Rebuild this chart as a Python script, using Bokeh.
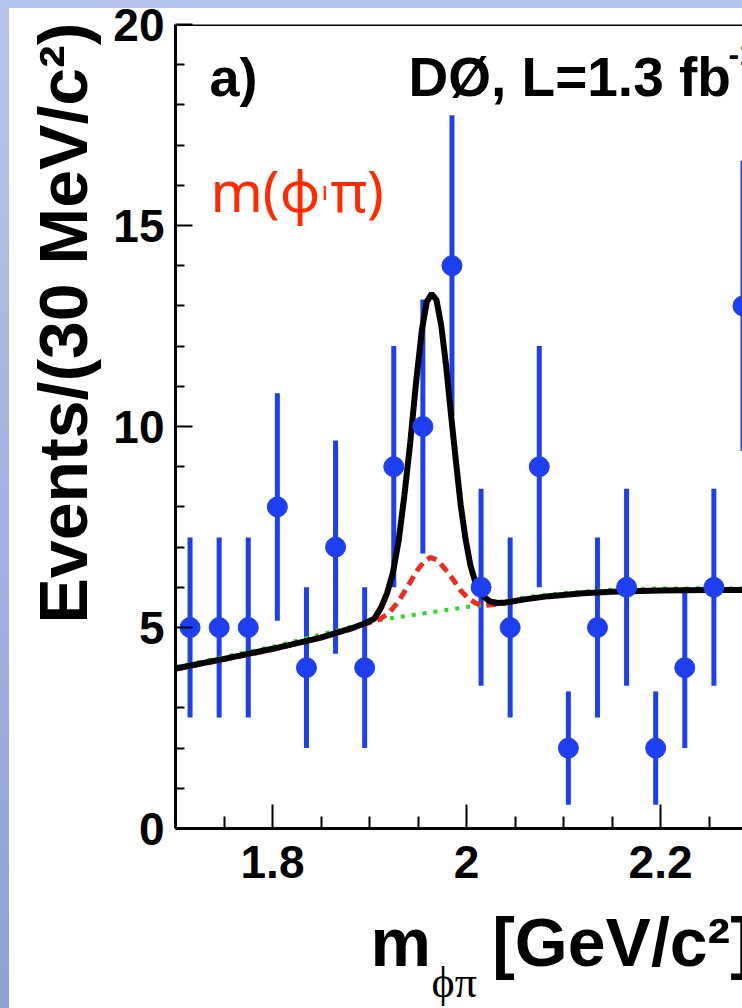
import math
from bokeh.plotting import figure
from bokeh.models import (FixedTicker, CustomJSTickFormatter, Label, Span, Range1d, Title,
                          ColumnDataSource, GlobalInlineStyleSheet)
from bokeh.embed import file_html
from bokeh.resources import INLINE

# ---- data ----
bin_centers = [1.715, 1.745, 1.775, 1.805, 1.835, 1.865, 1.895, 1.925, 1.955, 1.985,
               2.015, 2.045, 2.075, 2.105, 2.135, 2.165, 2.195, 2.225, 2.255, 2.285]
counts = [5, 5, 5, 8, 4, 7, 4, 9, 10, 14, 6, 5, 9, 2, 5, 6, 2, 4, 6, 13]
errors = [2.24, 2.24, 2.24, 2.83, 2.0, 2.65, 2.0, 3.0, 3.16, 3.74,
          2.45, 2.24, 3.0, 1.41, 2.24, 2.45, 1.41, 2.0, 2.45, 3.61]

fit_x = [1.700, 1.750, 1.800, 1.850, 1.880, 1.895, 1.905, 1.912, 1.918, 1.924, 1.930,
         1.936, 1.942, 1.948, 1.954, 1.959, 1.964, 1.969, 1.974, 1.979, 1.984, 1.989,
         1.994, 1.999, 2.004, 2.010, 2.016, 2.024, 2.032, 2.040, 2.060, 2.085, 2.120,
         2.150, 2.200, 2.250, 2.290]
fit_y = [3.98, 4.22, 4.47, 4.75, 4.97, 5.10, 5.22, 5.50, 5.85, 6.35, 7.15,
         8.30, 9.60, 11.10, 12.40, 13.10, 13.30, 13.15, 12.50, 11.50, 10.30, 9.15,
         8.05, 7.20, 6.55, 6.05, 5.80, 5.65, 5.61, 5.62, 5.70, 5.78, 5.85,
         5.89, 5.92, 5.93, 5.93]

sig_x = [1.700, 1.800, 1.880, 1.900, 1.910, 1.920, 1.930, 1.940, 1.950, 1.957, 1.963,
         1.970, 1.978, 1.986, 1.994, 2.002, 2.010, 2.020, 2.030, 2.040]
sig_y = [3.96, 4.45, 4.95, 5.12, 5.20, 5.36, 5.65, 6.05, 6.45, 6.66, 6.74,
         6.68, 6.45, 6.20, 5.92, 5.72, 5.60, 5.55, 5.57, 5.60]

bkg_x = [1.700, 1.800, 1.880, 1.905, 1.950, 2.000, 2.030, 2.060, 2.100, 2.150, 2.200, 2.290]
bkg_y = [4.02, 4.52, 5.01, 5.17, 5.33, 5.51, 5.60, 5.75, 5.86, 5.94, 5.97, 5.98]

x_major = [1.8, 2.0, 2.2]
x_minor = [1.75, 1.85, 1.9, 1.95, 2.05, 2.1, 2.15, 2.25]
y_major = [0, 5, 10, 15, 20]
y_minor = [1, 2, 3, 4, 6, 7, 8, 9, 11, 12, 13, 14, 16, 17, 18, 19]

BLUE = "#1d3ff0"
RED = "#ff2a00"
SANS = "Liberation Sans"

css = """
html { background:
  linear-gradient(to bottom, #b7c6ea, #8ea3d3) 0 0 / 9px 100% no-repeat,
  linear-gradient(#b3c3ea, #b3c3ea) 0 0 / 100% 8px no-repeat, #ffffff !important;
  height: 100%; overflow: hidden !important; }
body { background: transparent !important; overflow: hidden !important;
  margin: 0 !important; padding: 0 !important; }
"""

p = figure(width=742, height=1008, output_backend="svg", toolbar_location=None,
           x_range=Range1d(1.7, 2.2845), y_range=Range1d(0, 20),
           min_border_left=175, min_border_right=0, min_border_top=24, min_border_bottom=180)
p.stylesheets = [GlobalInlineStyleSheet(css=css)]
p.outline_line_color = None
p.xgrid.visible = False
p.ygrid.visible = False
p.background_fill_color = "white"
p.border_fill_color = None

# axes
xa = p.xaxis[0]
xa.ticker = FixedTicker(ticks=x_major, minor_ticks=x_minor)
xa.formatter = CustomJSTickFormatter(code="return Math.abs(tick-2)<1e-9 ? '2' : tick.toFixed(1);")
ya = p.yaxis[0]
ya.ticker = FixedTicker(ticks=y_major, minor_ticks=y_minor)
for ax in (xa, ya):
    ax.axis_line_width = 3
    ax.axis_line_color = "black"
    ax.major_tick_line_width = 2
    ax.minor_tick_line_width = 2
    ax.major_tick_out = 0
    ax.minor_tick_out = 0
    ax.major_label_text_font = SANS
    ax.major_label_text_font_style = "bold"
    ax.major_label_text_font_size = "46px"
    ax.major_label_text_color = "black"
xa.major_tick_in = 24
xa.minor_tick_in = 12
xa.major_label_standoff = 17
ya.major_tick_in = 17
ya.minor_tick_in = 9
ya.major_label_standoff = 11

p.add_layout(Span(location=20, dimension="width", line_color="black", line_width=3))

# axis titles as side-panel titles
p.add_layout(Title(text="Events/(30 MeV/c²)", align="left", vertical_align="bottom",
                   offset=205, standoff=19, text_font=SANS, text_font_style="bold",
                   text_font_size="68px", text_color="black"), "left")
p.add_layout(Title(text="m\u2002\u2009\u2009[GeV/c²]", align="left", vertical_align="bottom",
                   offset=195, standoff=43, text_font=SANS, text_font_style="bold",
                   text_font_size="68px", text_color="black"), "below")
p.add_layout(Title(text="ϕπ", align="left", vertical_align="top",
                   offset=256, standoff=-88, text_font="Liberation Serif",
                   text_font_style="normal", text_font_size="44px", text_color="black"), "below")

# data error bars
src = ColumnDataSource(dict(x=bin_centers, y=counts,
                            lo=[c - e for c, e in zip(counts, errors)],
                            hi=[c + e for c, e in zip(counts, errors)]))
p.segment(x0="x", y0="lo", x1="x", y1="hi", source=src, line_color=BLUE, line_width=5)

# fit curves
p.line(bkg_x, bkg_y, line_color="#22e022", line_width=4, line_dash="4 7")
p.line(sig_x, sig_y, line_color="#f02a1e", line_width=5, line_dash="10 6")
p.line(fit_x, fit_y, line_color="black", line_width=6)

# data markers
p.scatter(x="x", y="y", source=src, size=20, marker="circle", fill_color=BLUE, line_color=BLUE)

def lab(x, y, text, size, font=SANS, style="bold", color="black", angle=0.0):
    p.add_layout(Label(x=x, y=y, x_units="screen", y_units="screen", text=text,
                       text_font=font, text_font_style=style, text_font_size=size,
                       text_color=color, angle=angle, text_align="left",
                       text_baseline="alphabetic"))

# frame-relative positions (x from frame left, y up from frame bottom)
lab(34, 752, "a)", "54px")
lab(233, 752, "DØ, L=1.3 fb", "55px")
lab(553, 775, "-1", "32px")

lab(35, 639, "m(ϕ", "56px", font="Noto Sans", style="normal", color=RED)
lab(146, 639, "ı", "26px", font="Noto Sans", style="normal", color=RED)
lab(155, 639, "π)", "56px", font="Noto Sans", style="normal", color=RED)

open("out.html", "w").write(file_html(p, INLINE))
